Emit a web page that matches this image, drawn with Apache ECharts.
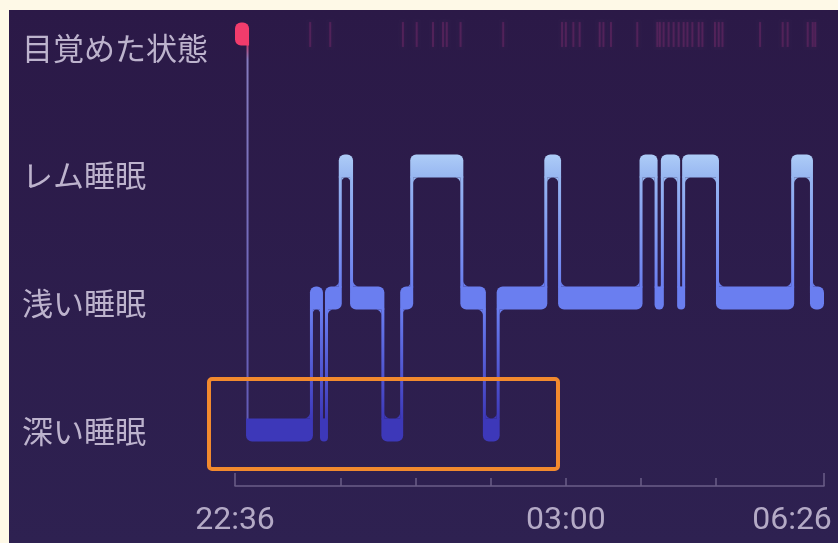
<!DOCTYPE html>
<html>
<head>
<meta charset="utf-8">
<script src="https://cdn.jsdelivr.net/npm/echarts@6/dist/echarts.min.js"></script>
<style>
  html, body { margin: 0; padding: 0; background: #fef9e7; }
  #chart { width: 838px; height: 543px; }
</style>
</head>
<body>
<div id="chart"></div>
<script>
/* ---------------- Data (minutes after 22:36) ---------------- */
const stageNames = ["深い睡眠", "浅い睡眠", "レム睡眠", "目覚めた状態"];
// stage level: 0 deep, 1 light, 2 REM, 3 awake
const segStart = [0, 10, 61, 69, 73, 84, 93, 118, 133, 141, 181, 199, 210, 248, 259, 324, 336, 341, 354, 358, 385, 445, 460];
const segStage = [3, 0, 1, 0, 1, 2, 1, 0, 1, 2, 1, 0, 1, 2, 1, 2, 1, 2, 1, 2, 1, 2, 1];
const sleepEnd = 470;
// short awakenings drawn as faint ticks in the top row
const wakeTicks = [60, 76, 134, 145, 158, 166, 169, 180, 214, 261, 264, 270, 275, 291, 294, 300, 321,
  337, 339, 342, 346, 350, 354, 358, 361, 365, 370, 373, 383, 386, 389, 419, 437, 441, 457, 461, 463];
const hourTicks = [84, 144, 204, 264, 324, 384];
const labelTicks = [0, 264, 470];
const labelText = ["22:36", "03:00", "06:26"];

/* ---------------- Style ---------------- */
const stageColor = ["#3d38b9", "#6a7ef0", "#a2c3f4", "#f23c6c"];
const BAND = 23, LINE = 3, R = 6, FILLET = 6;
const axisColor = "#6b5e88";

const segments = segStart.map((s, i) => [
  s,
  i + 1 < segStart.length ? segStart[i + 1] : sleepEnd,
  segStage[i],
  i > 0 ? segStage[i - 1] : -1,
  i + 1 < segStage.length ? segStage[i + 1] : -1
]);
const transitions = segStart.slice(1).map((t, k) => [
  t, segStage[k], segStage[k + 1], segStart[k],
  k + 2 < segStart.length ? segStart[k + 2] : sleepEnd
]);

function bandFill(lv) {
  if (lv === 2) {
    return new echarts.graphic.LinearGradient(0, 0, 0, 1, [
      { offset: 0, color: "#adccf7" }, { offset: 1, color: "#97b6f1" }
    ]);
  }
  return stageColor[lv];
}

function renderSegment(params, api) {
  const s = api.value(0), e = api.value(1), lv = api.value(2);
  const prev = api.value(3), next = api.value(4);
  const a = api.coord([s, lv]), b = api.coord([e, lv]);
  let x0 = a[0], x1 = b[0];
  if (prev >= 0) x0 -= LINE / 2;
  if (next >= 0) x1 += LINE / 2;
  const r = [R, R, R, R]; // tl tr br bl
  if (prev > lv) r[0] = 0;
  if (prev >= 0 && prev < lv) r[3] = 0;
  if (next > lv) r[1] = 0;
  if (next >= 0 && next < lv) r[2] = 0;
  return {
    type: "rect",
    shape: { x: x0, y: a[1] - BAND / 2, width: x1 - x0, height: BAND, r },
    style: { fill: bandFill(lv) }
  };
}

function fillet(cx, cy, dx, dy, f, color) {
  const pts = [[cx, cy]];
  const ox = cx + dx * f, oy = cy + dy * f;
  for (let i = 0; i <= 8; i++) {
    const ang = (Math.PI / 2) * i / 8;
    pts.push([ox - dx * f * Math.sin(ang), oy - dy * f * Math.cos(ang)]);
  }
  return { type: "polygon", shape: { points: pts }, style: { fill: color } };
}

function renderTransition(params, api) {
  const t = api.value(0), from = api.value(1), to = api.value(2);
  const pStart = api.value(3), nEnd = api.value(4);
  const pf = api.coord([t, from]), pt = api.coord([t, to]);
  const x = pf[0];
  const hi = Math.max(from, to), lo = Math.min(from, to);
  const yTop = Math.min(pf[1], pt[1]) + BAND / 2;
  const yBot = Math.max(pf[1], pt[1]) - BAND / 2;

  if (hi === 3) {
    return {
      type: "rect",
      shape: { x: x - 1, y: yTop - 1, width: 2, height: yBot - yTop + 2 },
      style: {
        fill: new echarts.graphic.LinearGradient(0, 0, 0, 1, [
          { offset: 0, color: "#d9456f" }, { offset: 0.04, color: "#958dd2" }, { offset: 1, color: "#6b65c8" }
        ]),
        opacity: 0.85
      }
    };
  }

  const up = to > from;
  const wPrev = x - api.coord([pStart, from])[0];
  const wNext = api.coord([nEnd, to])[0] - x;
  const lowW = up ? wPrev : wNext, highW = up ? wNext : wPrev;
  const lowSide = up ? -1 : 1, highSide = -lowSide;
  const fLow = Math.max(0, Math.min(FILLET, (lowW - LINE) / 2));
  const fHigh = Math.max(0, Math.min(FILLET, (highW - LINE) / 2));

  return {
    type: "group",
    children: [
      {
        type: "rect",
        shape: { x: x - LINE / 2, y: yTop - 1, width: LINE, height: yBot - yTop + 2 },
        style: {
          fill: new echarts.graphic.LinearGradient(0, 0, 0, 1, [
            { offset: 0, color: hi === 2 ? "#97b6f1" : stageColor[hi] },
            { offset: 1, color: stageColor[lo] }
          ])
        }
      },
      fillet(x + lowSide * LINE / 2, yBot, lowSide, -1, fLow, stageColor[lo]),
      fillet(x + highSide * LINE / 2, yTop, highSide, 1, fHigh, hi === 2 ? "#97b6f1" : stageColor[hi])
    ]
  };
}

function renderWakeTick(params, api) {
  const p = api.coord([api.value(0), 3]);
  return {
    type: "rect",
    shape: { x: p[0] - 1, y: p[1] - 12, width: 2, height: 25 },
    style: { fill: "rgba(160, 50, 125, 0.28)", shadowBlur: 3, shadowColor: "rgba(160, 50, 125, 0.4)" }
  };
}

/* ---------------- Chart ---------------- */
const chart = echarts.init(document.getElementById("chart"));

chart.setOption({
  animation: false,
  backgroundColor: "#fef9e7",
  graphic: [
    {
      type: "rect",
      z: -100,
      shape: { x: 9, y: 10, width: 829, height: 533 },
      style: {
        fill: new echarts.graphic.LinearGradient(0, 0, 0, 1, [
          { offset: 0, color: "#2b1947" }, { offset: 1, color: "#2e2151" }
        ])
      }
    },
    {
      type: "rect",
      z: 100,
      shape: { x: 209, y: 379, width: 349, height: 90, r: 3 },
      style: { fill: "none", stroke: "#f28a2e", lineWidth: 4 }
    }
  ],
  grid: { left: 235, right: 14, top: 1, bottom: 57, outerBoundsMode: "none" },
  xAxis: [
    {
      type: "value",
      min: 0,
      max: sleepEnd,
      position: "bottom",
      splitLine: { show: false },
      axisLine: { show: true, onZero: false, lineStyle: { color: axisColor, width: 1.5 } },
      axisTick: {
        show: true, inside: true, length: 8, customValues: hourTicks,
        lineStyle: { color: axisColor, width: 1.5 }
      },
      axisLabel: {
        customValues: labelTicks,
        margin: 19,
        color: "#b4aac6",
        fontSize: 32,
        fontFamily: "Roboto",
        formatter: v => {
          const i = labelTicks.indexOf(v);
          return i === labelTicks.length - 1 ? "{e|" + labelText[i] + "}" : labelText[i];
        },
        rich: {
          e: { padding: [0, 64, 0, 0], color: "#b4aac6", fontSize: 32, fontFamily: "Roboto" }
        }
      }
    },
    {
      type: "value",
      min: 0,
      max: sleepEnd,
      position: "bottom",
      splitLine: { show: false },
      axisLine: { show: false, onZero: false },
      axisLabel: { show: false },
      axisTick: {
        show: true, inside: true, length: 13, customValues: [0, sleepEnd],
        lineStyle: { color: axisColor, width: 1.5 }
      }
    }
  ],
  yAxis: [
    {
      type: "value",
      min: -0.4242,
      max: 3.25,
      show: false,
      splitLine: { show: false }
    },
    {
      type: "value",
      min: -0.4308,
      max: 3.368,
      position: "left",
      splitLine: { show: false },
      axisLine: { show: false, onZero: false },
      axisTick: { show: false },
      axisLabel: {
        customValues: [0, 1, 2, 3],
        formatter: v => stageNames[v],
        align: "left",
        margin: 213,
        color: "#bdb3cd",
        fontSize: 31,
        fontFamily: "Noto Sans CJK JP"
      }
    }
  ],
  series: [
    {
      type: "custom",
      name: "wake ticks",
      renderItem: renderWakeTick,
      encode: { x: 0 },
      data: wakeTicks.map(t => [t]),
      z: 1
    },
    {
      type: "custom",
      name: "transitions",
      renderItem: renderTransition,
      encode: { x: 0 },
      data: transitions,
      z: 2
    },
    {
      type: "custom",
      name: "stages",
      renderItem: renderSegment,
      encode: { x: [0, 1], y: 2 },
      data: segments,
      z: 3
    }
  ]
});
</script>
</body>
</html>
